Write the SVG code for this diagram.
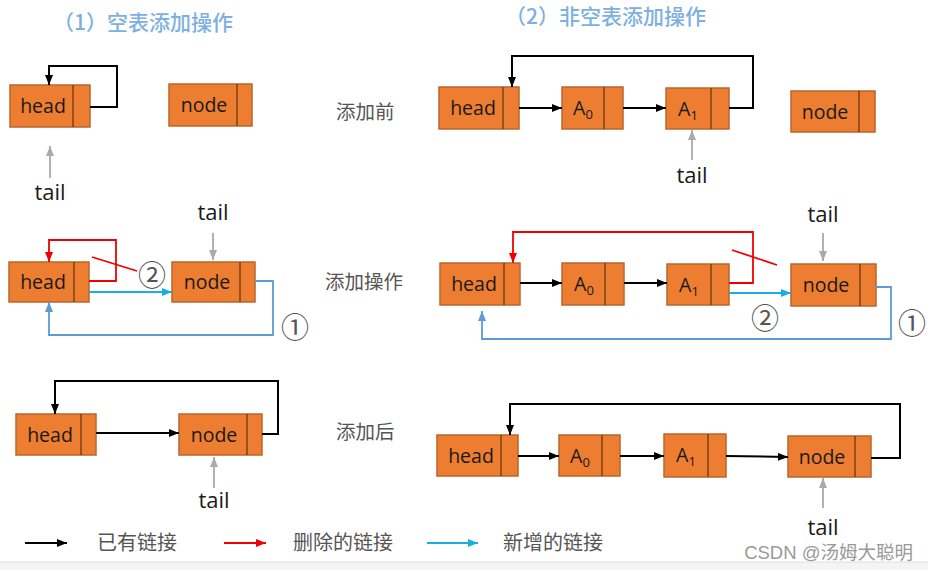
<svg xmlns="http://www.w3.org/2000/svg" width="928" height="570" viewBox="0 0 928 570">
<style>
.box{fill:#ED7D31;stroke:#B8652C;stroke-width:1.5}
.div{stroke:#6B3A12;stroke-width:1.3}
.lbl{font-family:"Open Sans","Liberation Sans",sans-serif;font-size:19.5px;fill:#1a1a1a;text-anchor:middle}
.tail{font-family:"Open Sans","Liberation Sans",sans-serif;font-size:22px;fill:#1a1a1a;text-anchor:middle}
.sub{font-size:13px}
.cn{font-family:"Noto Sans CJK SC","Noto Sans",sans-serif;font-size:19.5px;fill:#555}
.leg{font-family:"Noto Sans CJK SC","Noto Sans",sans-serif;font-size:20px;fill:#555}
.title{font-family:"Noto Sans CJK SC","Noto Sans",sans-serif;font-size:21px;fill:#7DB0E2;font-weight:500}
.num{font-family:"Noto Sans CJK SC","DejaVu Sans",sans-serif;font-size:28px;fill:#555;text-anchor:middle;dominant-baseline:central}
.k{fill:none;stroke:#000;stroke-width:2}
.r{fill:none;stroke:#F00000;stroke-width:1.8}
.c{fill:none;stroke:#1AAEE0;stroke-width:1.8}
.b{fill:none;stroke:#5B9BD5;stroke-width:1.8}
.g{fill:none;stroke:#AAAAAA;stroke-width:1.8}
</style>
<defs>
<marker id="ak" markerUnits="userSpaceOnUse" markerWidth="10" markerHeight="8" refX="10" refY="4" orient="auto"><path d="M0,0 L10,4 L0,8 z" fill="#000"/></marker>
<marker id="ar" markerUnits="userSpaceOnUse" markerWidth="10" markerHeight="8" refX="10" refY="4" orient="auto"><path d="M0,0 L10,4 L0,8 z" fill="#F00000"/></marker>
<marker id="ac" markerUnits="userSpaceOnUse" markerWidth="10" markerHeight="8" refX="10" refY="4" orient="auto"><path d="M0,0 L10,4 L0,8 z" fill="#1AAEE0"/></marker>
<marker id="ab" markerUnits="userSpaceOnUse" markerWidth="10" markerHeight="8" refX="10" refY="4" orient="auto"><path d="M0,0 L10,4 L0,8 z" fill="#5B9BD5"/></marker>
<marker id="ag" markerUnits="userSpaceOnUse" markerWidth="10" markerHeight="8" refX="10" refY="4" orient="auto"><path d="M0,0 L10,4 L0,8 z" fill="#AAAAAA"/></marker>
</defs>
<rect x="0" y="0" width="928" height="570" fill="#fff"/>
<rect x="0" y="562" width="928" height="8" fill="#F4F4F4"/>
<line x1="0" y1="562" x2="928" y2="562" stroke="#DDD" stroke-width="1"/>

<text class="title" x="53" y="30">（1）空表添加操作</text>
<text class="title" x="505" y="24">（2）非空表添加操作</text>
<text class="cn" x="336" y="119">添加前</text>
<text class="cn" x="325" y="289">添加操作</text>
<text class="cn" x="336" y="439">添加后</text>

<!-- left row 1 -->
<g id="l1-head"><rect class="box" x="10" y="85" width="80" height="42"/><line class="div" x1="73" y1="85" x2="73" y2="127"/><text class="lbl" x="43" y="113">head</text></g>
<g id="l1-node"><rect class="box" x="169" y="84" width="83" height="42"/><line class="div" x1="237" y1="84" x2="237" y2="126"/><text class="lbl" x="204" y="112">node</text></g>
<g id="l1-tail"><text class="tail" x="50" y="200">tail</text></g>
<!-- left row 2 -->
<g id="l2-head"><rect class="box" x="9" y="262" width="80" height="40"/><line class="div" x1="74" y1="262" x2="74" y2="302"/><text class="lbl" x="43" y="289">head</text></g>
<g id="l2-node"><rect class="box" x="172" y="262" width="83" height="40"/><line class="div" x1="240" y1="262" x2="240" y2="302"/><text class="lbl" x="207" y="289">node</text></g>
<g id="l2-tail"><text class="tail" x="213" y="220">tail</text></g>
<!-- left row 3 -->
<g id="l3-head"><rect class="box" x="16" y="414" width="80" height="41"/><line class="div" x1="81" y1="414" x2="81" y2="455"/><text class="lbl" x="50" y="442">head</text></g>
<g id="l3-node"><rect class="box" x="179" y="414" width="83" height="41"/><line class="div" x1="247" y1="414" x2="247" y2="455"/><text class="lbl" x="214" y="442">node</text></g>
<g id="l3-tail"><text class="tail" x="214" y="508">tail</text></g>

<!-- right row 1 -->
<g id="r1-head"><rect class="box" x="439" y="87" width="80" height="42"/><line class="div" x1="503" y1="87" x2="503" y2="129"/><text class="lbl" x="473" y="115">head</text></g>
<g id="r1-a0"><rect class="box" x="562" y="87" width="61" height="42"/><line class="div" x1="604" y1="87" x2="604" y2="129"/><text class="lbl" x="583" y="115">A<tspan class="sub" dy="4">0</tspan></text></g>
<g id="r1-a1"><rect class="box" x="666" y="88" width="63" height="41"/><line class="div" x1="711" y1="88" x2="711" y2="129"/><text class="lbl" x="688" y="116">A<tspan class="sub" dy="4">1</tspan></text></g>
<g id="r1-node"><rect class="box" x="791" y="91" width="84" height="41"/><line class="div" x1="859" y1="91" x2="859" y2="132"/><text class="lbl" x="825" y="119">node</text></g>
<g id="r1-tail"><text class="tail" x="692" y="183">tail</text></g>
<!-- right row 2 -->
<g id="r2-head"><rect class="box" x="440" y="263" width="80" height="42"/><line class="div" x1="504" y1="263" x2="504" y2="305"/><text class="lbl" x="474" y="291">head</text></g>
<g id="r2-a0"><rect class="box" x="562" y="263" width="62" height="42"/><line class="div" x1="605" y1="263" x2="605" y2="305"/><text class="lbl" x="584" y="291">A<tspan class="sub" dy="4">0</tspan></text></g>
<g id="r2-a1"><rect class="box" x="667" y="264" width="62" height="41"/><line class="div" x1="711" y1="264" x2="711" y2="305"/><text class="lbl" x="689" y="292">A<tspan class="sub" dy="4">1</tspan></text></g>
<g id="r2-node"><rect class="box" x="791" y="264" width="85" height="42"/><line class="div" x1="860" y1="264" x2="860" y2="306"/><text class="lbl" x="826" y="292">node</text></g>
<g id="r2-tail"><text class="tail" x="823" y="222">tail</text></g>
<!-- right row 3 -->
<g id="r3-head"><rect class="box" x="437" y="435" width="81" height="41"/><line class="div" x1="501" y1="435" x2="501" y2="476"/><text class="lbl" x="471" y="463">head</text></g>
<g id="r3-a0"><rect class="box" x="559" y="435" width="61" height="41"/><line class="div" x1="602" y1="435" x2="602" y2="476"/><text class="lbl" x="580" y="463">A<tspan class="sub" dy="4">0</tspan></text></g>
<g id="r3-a1"><rect class="box" x="664" y="434" width="62" height="43"/><line class="div" x1="708" y1="434" x2="708" y2="477"/><text class="lbl" x="686" y="462">A<tspan class="sub" dy="4">1</tspan></text></g>
<g id="r3-node"><rect class="box" x="788" y="436" width="83" height="41"/><line class="div" x1="855" y1="436" x2="855" y2="477"/><text class="lbl" x="822" y="464">node</text></g>
<g id="r3-tail"><text class="tail" x="823" y="535">tail</text></g>

<g id="connectors">
<path class="k" d="M90,107 H117 V66 H49 V85" marker-end="url(#ak)"/>
<path class="g" d="M50,178 V146" marker-end="url(#ag)"/>
<path class="r" d="M89,281 H116 V240 H49 V262" marker-end="url(#ar)"/>
<path class="r" d="M92,257 L137,271"/>
<path class="c" d="M89,292 H172" marker-end="url(#ac)"/>
<path class="b" d="M255,281 H273 V335 H49 V302" marker-end="url(#ab)"/>
<path class="g" d="M213,233 V260" marker-end="url(#ag)"/>
<path class="k" d="M96,433 H179" marker-end="url(#ak)"/>
<path class="k" d="M262,434 H278 V381 H55 V414" marker-end="url(#ak)"/>
<path class="g" d="M214,488 V457" marker-end="url(#ag)"/>

<path class="k" d="M519,108 H562" marker-end="url(#ak)"/>
<path class="k" d="M623,108 H666" marker-end="url(#ak)"/>
<path class="k" d="M729,108 H753 V56 H512 V87" marker-end="url(#ak)"/>
<path class="g" d="M692,160 V130" marker-end="url(#ag)"/>

<path class="k" d="M520,283 H562" marker-end="url(#ak)"/>
<path class="k" d="M624,283 H667" marker-end="url(#ak)"/>
<path class="r" d="M729,283 H753 V232 H513 V263" marker-end="url(#ar)"/>
<path class="r" d="M732,250 L777,265"/>
<path class="c" d="M729,293 H791" marker-end="url(#ac)"/>
<path class="b" d="M875,287 H891 V339 H482 V311" marker-end="url(#ab)"/>
<path class="g" d="M823,233 V261" marker-end="url(#ag)"/>

<path class="k" d="M518,456 H559" marker-end="url(#ak)"/>
<path class="k" d="M620,456 H664" marker-end="url(#ak)"/>
<path class="k" d="M726,456 L788,457" marker-end="url(#ak)"/>
<path class="k" d="M871,458 H900 V404 H510 V435" marker-end="url(#ak)"/>
<path class="g" d="M823,508 V478" marker-end="url(#ag)"/>

<path class="k" d="M25,543 H67" marker-end="url(#ak)"/>
<path class="r" d="M224,543 H266" marker-end="url(#ar)"/>
<path class="c" d="M427,543 H478" marker-end="url(#ac)"/>
</g>

<text class="num" x="152" y="274">②</text>
<text class="num" x="295" y="326">①</text>
<text class="num" x="765" y="317">②</text>
<text class="num" x="912" y="322">①</text>

<text class="leg" x="97" y="550">已有链接</text>
<text class="leg" x="293" y="550">删除的链接</text>
<text class="leg" x="503" y="550">新增的链接</text>
<text x="913" y="559" text-anchor="end" font-family="Liberation Sans,Noto Sans CJK SC,sans-serif" font-size="18.5" fill="#999">CSDN @汤姆大聪明</text>
</svg>
